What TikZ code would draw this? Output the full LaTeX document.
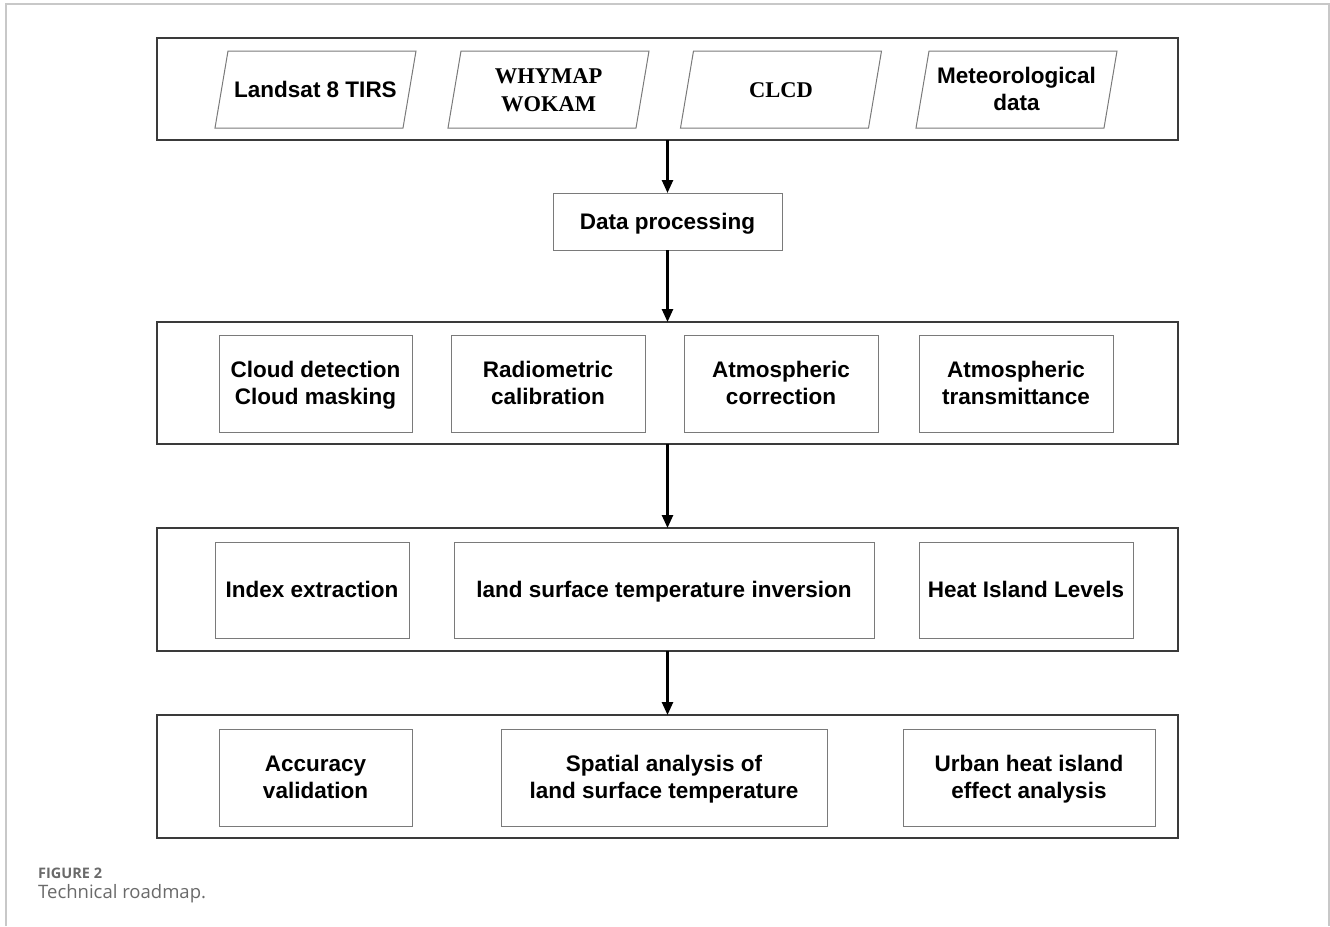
\documentclass[tikz,border=0pt]{standalone}
\usepackage{fontspec}
\setmainfont{Liberation Sans}
\newfontfamily\timesf{Liberation Serif}
\newfontfamily\capf{Open Sans}
\usetikzlibrary{arrows.meta}
\definecolor{outerc}{HTML}{3A3A3A}
\definecolor{innerc}{HTML}{7A7A7A}
\definecolor{framec}{HTML}{C8C8C8}
\definecolor{capc}{HTML}{6A6A6A}
\newcommand{\mystr}{\rule[-6pt]{0pt}{27pt}}
\tikzset{
  outerbox/.style={draw=outerc, line width=1.5pt, rectangle, inner sep=0pt, outer sep=0pt},
  txt/.style={align=center, font=\fontsize{22.5}{27}\selectfont\bfseries},
  innerbox/.style={txt, draw=innerc, line width=1pt, rectangle, inner sep=0pt, outer sep=0pt},
  paratext/.style={txt, inner sep=0pt, outer sep=0pt},
  paraline/.style={draw=innerc, line width=1pt, line join=miter},
  serif/.style={font=\timesf\fontsize{22.5}{28}\selectfont\bfseries},
  arr/.style={-{Triangle[length=13pt,width=11pt]}, line width=2.5pt, black}
}
\begin{document}
\begin{tikzpicture}[x=1pt,y=-1pt]
\useasboundingbox (0,0) rectangle (1330,926);
% page frame
\draw[framec, line width=1.2pt] (6,926) -- (6,4) -- (1329,4) -- (1329,926);

% outer boxes
\node[outerbox, minimum width=1021pt, minimum height=102pt] (b1) at (667.5,89) {};
\node[outerbox, minimum width=1021pt, minimum height=122pt] (b2) at (667.5,383) {};
\node[outerbox, minimum width=1021pt, minimum height=123pt] (b3) at (667.5,589.5) {};
\node[outerbox, minimum width=1021pt, minimum height=123pt] (b4) at (667.5,776.5) {};

% row 1 (parallelograms)
\node[paratext] (p1) at (315.5,89.5) {\mystr Landsat 8 TIRS\mystr};
\node[paratext, serif] (p2) at (548.5,89.5) {\mystr WHYMAP\\WOKAM\mystr};
\node[paratext, serif] (p3) at (781,89.5) {\mystr CLCD\mystr};
\node[paratext] (p4) at (1016.5,89.5) {\mystr Meteorological\\data\mystr};
\foreach \p in {p1,p2,p3,p4}{
  \draw[paraline] (\p.center) ++(-100.5,38.5) -- ++(188,0) -- ++(13,-77) -- ++(-188,0) -- cycle;
}

% data processing
\node[innerbox, minimum width=229pt, minimum height=57pt] (dp) at (667.5,221.5) {\mystr Data processing\mystr};

% row 2
\node[innerbox, minimum width=193pt, minimum height=97pt] (c1) at (315.5,383.5) {\mystr Cloud detection\\Cloud masking\mystr};
\node[innerbox, minimum width=194pt, minimum height=97pt] (c2) at (548,383.5) {\mystr Radiometric\\calibration\mystr};
\node[innerbox, minimum width=194pt, minimum height=97pt] (c3) at (781,383.5) {\mystr Atmospheric\\correction\mystr};
\node[innerbox, minimum width=194pt, minimum height=97pt] (c4) at (1016,383.5) {\mystr Atmospheric\\transmittance\mystr};

% row 3
\node[innerbox, minimum width=194pt, minimum height=96pt] (d1) at (312,590) {\mystr Index extraction\mystr};
\node[innerbox, minimum width=420pt, minimum height=96pt] (d2) at (664,590) {\mystr land surface temperature inversion\mystr};
\node[innerbox, minimum width=214pt, minimum height=96pt] (d3) at (1026,590) {\mystr Heat Island Levels\mystr};

% row 4
\node[innerbox, minimum width=193pt, minimum height=97pt] (e1) at (315.5,777.5) {\mystr Accuracy\\validation\mystr};
\node[innerbox, minimum width=326pt, minimum height=97pt] (e2) at (664,777.5) {\mystr Spatial analysis of\\land surface temperature\mystr};
\node[innerbox, minimum width=252pt, minimum height=97pt] (e3) at (1029,777.5) {\mystr Urban heat island\\effect analysis\mystr};

% arrows
\draw[arr] (b1.south) -- (dp.north);
\draw[arr] (dp.south) -- (b2.north);
\draw[arr] (b2.south) -- (b3.north);
\draw[arr] (b3.south) -- (b4.north);

% caption
\node[anchor=base west, inner sep=0pt, text=capc, font=\capf\fontsize{14.5}{16}\selectfont\bfseries] (cap1) at (38,878) {FIGURE 2};
\node[anchor=base west, inner sep=0pt, text=capc, font=\capf\fontsize{18.5}{20}\selectfont] (cap2) at (38,898) {Technical roadmap.};
\end{tikzpicture}
\end{document}
